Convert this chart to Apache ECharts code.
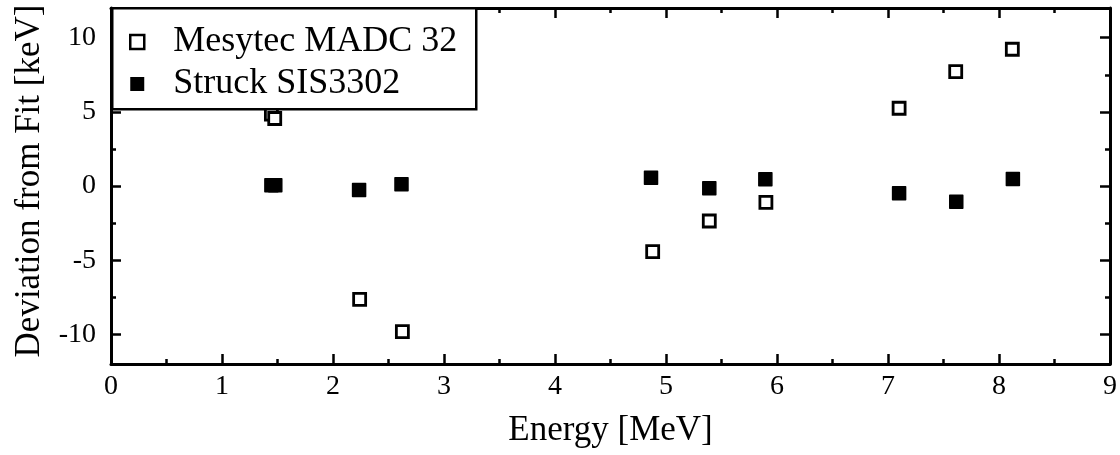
<!DOCTYPE html>
<html>
<head>
<meta charset="utf-8">
<script src="https://cdn.jsdelivr.net/npm/echarts@6/dist/echarts.min.js"></script>
<style>html,body{margin:0;padding:0;background:#fff}#c{width:1120px;height:455px}</style>
</head>
<body>
<div id="c"></div>
<script>
const seriesNames = ['Mesytec MADC 32', 'Struck SIS3302'];
const mesytecEnergy = [1.445, 1.475, 2.24, 2.625, 4.88, 5.39, 5.90, 7.10, 7.61, 8.12];
const mesytecDev    = [4.85, 4.55, -7.64, -9.82, -4.43, -2.36, -1.10, 5.24, 7.71, 9.22];
const struckEnergy  = [1.445, 1.48, 2.235, 2.617, 4.865, 5.39, 5.895, 7.10, 7.615, 8.125];
const struckDev     = [0.05, 0.05, -0.27, 0.11, 0.56, -0.16, 0.45, -0.49, -1.06, 0.47];
const yMajorTicks = [-10, -5, 0, 5, 10];
const yMinorTicks = [-7.5, -2.5, 2.5, 7.5];
const xTitle = 'Energy [MeV]';
const yTitle = 'Deviation from Fit [keV]';

const FONT = '"Liberation Serif", "Times New Roman", serif';
const pair = (xs, ys) => xs.map((x, i) => [x, ys[i]]);

const lineStyle = { color: '#000', width: 3 };
const tickStyle = { color: '#000', width: 2.5 };

const xCommon = {
  type: 'value', min: 0, max: 9, interval: 1,
  axisLine: { show: true, onZero: false, lineStyle },
  axisTick: { show: true, inside: true, length: 10, lineStyle: tickStyle },
  minorTick: { show: true, splitNumber: 2, length: 5, lineStyle: tickStyle },
  splitLine: { show: false }
};
function yAxisDef(position, ticks, len, showLine, extra) {
  return Object.assign({
    type: 'value', min: -12, max: 12, position,
    axisLine: { show: showLine, onZero: false, lineStyle },
    axisTick: { show: true, inside: true, length: len, customValues: ticks, lineStyle: tickStyle },
    axisLabel: { show: false },
    minorTick: { show: false },
    splitLine: { show: false }
  }, extra || {});
}

const chart = echarts.init(document.getElementById('c'), null, { renderer: 'canvas' });
chart.setOption({
  animation: false,
  backgroundColor: '#fff',
  grid: { left: 111, right: 8, top: 8, bottom: 91, containLabel: false },
  xAxis: [
    Object.assign({}, xCommon, {
      position: 'bottom',
      name: xTitle, nameLocation: 'middle', nameGap: 49,
      nameTextStyle: { fontFamily: FONT, fontSize: 35, color: '#000' },
      axisLabel: { fontFamily: FONT, fontSize: 28, color: '#000', margin: 9 }
    }),
    Object.assign({}, xCommon, { position: 'top', axisLabel: { show: false } })
  ],
  yAxis: [
    yAxisDef('left', yMajorTicks, 10, true, {
      name: yTitle, nameLocation: 'middle', nameGap: 62, nameRotate: 90,
      nameTextStyle: { fontFamily: FONT, fontSize: 35, color: '#000', padding: [0, 0, 0, 10] },
      axisLabel: { show: true, customValues: yMajorTicks, fontFamily: FONT, fontSize: 28, color: '#000', margin: 15 }
    }),
    yAxisDef('right', yMajorTicks, 10, true),
    yAxisDef('left', yMinorTicks, 5, false),
    yAxisDef('right', yMinorTicks, 5, false)
  ],
  graphic: [{
    type: 'rect', z: 100, left: 111, top: 7,
    shape: { width: 364, height: 101 },
    style: { fill: '#fff', stroke: '#000', lineWidth: 2.5 }
  }],
  legend: {
    z: 200, orient: 'vertical', left: 129, top: 24, padding: 0, itemGap: 6,
    itemWidth: 14, itemHeight: 14,
    textStyle: { fontFamily: FONT, fontSize: 36, color: '#000', lineHeight: 32, padding: [0, 0, 0, 24] },
    data: [
      { name: seriesNames[0], icon: 'rect', itemStyle: { color: '#fff', borderColor: '#000', borderWidth: 2.5 } },
      { name: seriesNames[1], icon: 'rect', itemStyle: { color: '#000', borderWidth: 0 } }
    ]
  },
  series: [
    {
      name: seriesNames[0], type: 'scatter', symbol: 'rect', symbolSize: 12, yAxisIndex: 0,
      itemStyle: { color: '#fff', borderColor: '#000', borderWidth: 2.8, opacity: 1 },
      data: pair(mesytecEnergy, mesytecDev)
    },
    {
      name: seriesNames[1], type: 'scatter', symbol: 'rect', symbolSize: 13, yAxisIndex: 0,
      itemStyle: { color: '#000', borderColor: '#000', borderWidth: 1.5, borderJoin: 'round', opacity: 1 },
      data: pair(struckEnergy, struckDev)
    }
  ]
});
</script>
</body>
</html>
